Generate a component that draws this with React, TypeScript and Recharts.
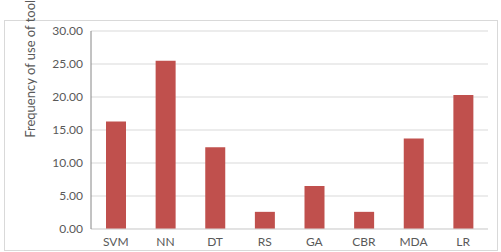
import { BarChart, Bar, XAxis, YAxis, CartesianGrid, Label } from 'recharts'

const methods = ['SVM', 'NN', 'DT', 'RS', 'GA', 'CBR', 'MDA', 'LR']
const frequency = [16.3, 25.5, 12.4, 2.6, 6.5, 2.6, 13.7, 20.3]
const yTicks = [0, 5, 10, 15, 20, 25, 30]

const data = methods.map((m, i) => ({ method: m, freq: frequency[i] }))

const tickStyle = { fill: '#595959', fontSize: 12, fontFamily: 'Lato' }

function AxisTitle() {
  return (
    <text
      x={30}
      y={66}
      transform="rotate(-90, 30, 66)"
      textAnchor="middle"
      dominantBaseline="central"
      fill="#595959"
      fontSize={13}
      fontFamily="Lato"
    >
      Frequency of use of tools
    </text>
  )
}

export default function App() {
  return (
    <div style={{ position: 'absolute', left: 0, top: 0, width: 501, height: 252, background: '#fff' }}>
      <div
        style={{
          position: 'absolute',
          left: 4,
          top: 20,
          width: 492,
          height: 229,
          border: '1px solid #d9d9d9',
        }}
      />
      <BarChart
        width={501}
        height={252}
        data={data}
        margin={{ top: 31, right: 13, bottom: 0, left: 0 }}
        barCategoryGap={0}
        style={{ position: 'absolute', left: 0, top: 0 }}
      >
        <CartesianGrid vertical={false} stroke="#d9d9d9" />
        <XAxis
          dataKey="method"
          height={23}
          tick={tickStyle}
          tickLine={false}
          axisLine={{ stroke: '#d9d9d9' }}
          interval={0}
        />
        <YAxis
          width={91}
          domain={[0, 30]}
          ticks={yTicks}
          tickFormatter={(v: number) => v.toFixed(2)}
          tick={tickStyle}
          tickLine={false}
          axisLine={{ stroke: '#868686' }}
        >
          <Label content={<AxisTitle />} />
        </YAxis>
        <Bar dataKey="freq" fill="#c0504d" barSize={20} isAnimationActive={false} />
      </BarChart>
    </div>
  )
}
